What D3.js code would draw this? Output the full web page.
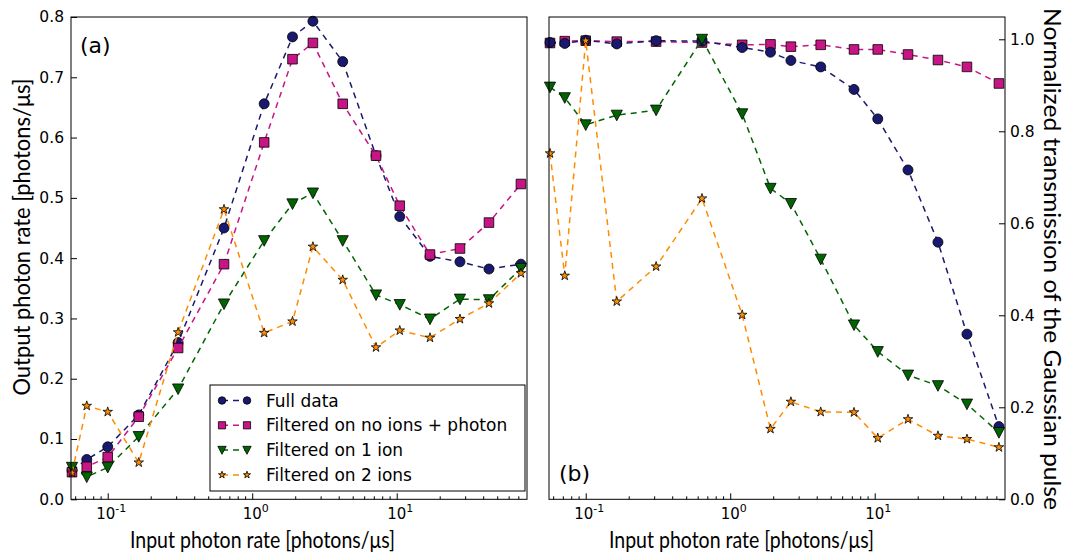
<!DOCTYPE html>
<html>
<head>
<meta charset="utf-8">
<script src="https://cdn.jsdelivr.net/npm/d3@7"></script>
<style>
  html, body { margin: 0; padding: 0; background: #fff; }
  svg { display: block; }
  .tick text { font-family: "DejaVu Sans", sans-serif; }
</style>
</head>
<body>
<svg id="chart" width="1069" height="554"></svg>
<script>
// Input photon rate (photons/us), shared by both panels
const inputRate = [0.0566, 0.0716, 0.1, 0.164, 0.307, 0.638, 1.21, 1.90, 2.63, 4.23, 7.19, 10.5, 17.0, 27.4, 43.5, 72.4];

// Panel (a): output photon rate (photons/us)
const outFull   = [0.048, 0.066, 0.087, 0.140, 0.260, 0.450, 0.656, 0.767, 0.793, 0.726, 0.570, 0.469, 0.403, 0.394, 0.382, 0.390];
const outNoIon  = [0.045, 0.054, 0.070, 0.137, 0.251, 0.390, 0.592, 0.730, 0.757, 0.656, 0.570, 0.487, 0.406, 0.416, 0.459, 0.523];
const outOneIon = [0.053, 0.037, 0.053, 0.104, 0.183, 0.324, 0.429, 0.490, 0.508, 0.429, 0.339, 0.323, 0.299, 0.332, 0.331, 0.383];
const outTwoIon = [0.044, 0.155, 0.145, 0.061, 0.277, 0.481, 0.276, 0.295, 0.419, 0.364, 0.252, 0.280, 0.268, 0.299, 0.325, 0.375];

// Panel (b): normalized transmission of the Gaussian pulse
const normFull   = [0.993, 0.991, 0.998, 0.990, 0.997, 0.996, 0.982, 0.972, 0.954, 0.940, 0.891, 0.827, 0.716, 0.559, 0.359, 0.158];
const normNoIon  = [0.992, 0.996, 0.997, 0.995, 0.995, 0.993, 0.988, 0.989, 0.984, 0.988, 0.978, 0.978, 0.967, 0.955, 0.940, 0.904];
const normOneIon = [0.896, 0.873, 0.814, 0.835, 0.846, 1.000, 0.838, 0.676, 0.643, 0.522, 0.379, 0.321, 0.270, 0.247, 0.207, 0.145];
const normTwoIon = [0.752, 0.486, 0.997, 0.430, 0.506, 0.654, 0.401, 0.153, 0.212, 0.190, 0.189, 0.133, 0.174, 0.138, 0.131, 0.113];

const seriesNames = ["Full data", "Filtered on no ions + photon", "Filtered on 1 ion", "Filtered on 2 ions"];
const seriesColors = ["#191970", "#c71585", "#006400", "#ff8c00"];
const seriesShapes = ["circle", "square", "triangle", "star"];

const leftTicks = [0, 0.1, 0.2, 0.3, 0.4, 0.5, 0.6, 0.7, 0.8];
const rightTicks = [0, 0.2, 0.4, 0.6, 0.8, 1.0];
const decadeTicks = [0.1, 1, 10];
const decadeExp = ["-1", "0", "1"];

const svg = d3.select("#chart");
const titleFont = "Lato, 'Open Sans', sans-serif";

// Marker path generator (centred on 0,0)
function markerPath(shape, s) {
  const p = d3.path();
  if (shape === "circle") {
    const r = 5 * s;
    p.moveTo(r, 0); p.arc(0, 0, r, 0, 2 * Math.PI);
  } else if (shape === "square") {
    const h = 4.8 * s;
    p.rect(-h, -h, 2 * h, 2 * h);
  } else if (shape === "triangle") {
    const r = 5.6 * s;
    p.moveTo(-r, -r * 0.9); p.lineTo(r, -r * 0.9); p.lineTo(0, r * 1.0); p.closePath();
  } else {
    const ro = 5 * s, ri = ro * 0.38;
    for (let i = 0; i < 10; i++) {
      const a = -Math.PI / 2 + i * Math.PI / 5;
      const r = i % 2 === 0 ? ro : ri;
      if (i === 0) p.moveTo(r * Math.cos(a), r * Math.sin(a));
      else p.lineTo(r * Math.cos(a), r * Math.sin(a));
    }
    p.closePath();
  }
  return p.toString();
}

const plotTop = 17, plotBottom = 499.3;
const xDomain = [0.0557, 79.75];

function drawPanel(opts) {
  const { left, right, yDomain, yTicks, series, order, yAxisSide, yPad, tag, tagPos, titleX } = opts;
  const x = d3.scaleLog().domain(xDomain).range([left, right]);
  const y = d3.scaleLinear().domain(yDomain).range([plotBottom, plotTop]);
  const g = svg.append("g");

  // Series: dashed lines then markers, in stacking order
  const line = d3.line().x((d, i) => x(inputRate[i])).y(d => y(d));
  order.forEach(k => {
    g.append("path")
      .attr("d", line(series[k]))
      .attr("fill", "none")
      .attr("stroke", seriesColors[k])
      .attr("stroke-width", 1.5)
      .attr("stroke-dasharray", "6,5");
    g.selectAll(null)
      .data(series[k])
      .join("path")
      .attr("transform", (d, i) => `translate(${x(inputRate[i])},${y(d)})`)
      .attr("d", markerPath(seriesShapes[k], 1))
      .attr("fill", seriesColors[k])
      .attr("stroke", "#000")
      .attr("stroke-width", 0.8);
  });

  // Frame
  g.append("rect")
    .attr("x", left).attr("y", plotTop)
    .attr("width", right - left).attr("height", plotBottom - plotTop)
    .attr("fill", "none").attr("stroke", "#000").attr("stroke-width", 1);

  // Bottom axis: log scale, major ticks with superscript labels, inward ticks
  const xAxis = d3.axisBottom(x)
    .tickValues(decadeTicks)
    .tickSizeInner(-6).tickSizeOuter(0)
    .tickFormat(() => "");
  const xa = g.append("g").attr("transform", `translate(0,${plotBottom})`).call(xAxis);
  xa.select(".domain").remove();
  xa.selectAll(".tick line").attr("stroke", "#000");
  xa.selectAll(".tick text").remove();
  xa.selectAll(".tick").each(function (d, i) {
    const t = d3.select(this).append("text")
      .attr("x", 3).attr("y", 19.5).attr("fill", "#000")
      .attr("text-anchor", "middle")
      .attr("font-family", "DejaVu Sans, sans-serif")
      .attr("font-size", 15);
    t.append("tspan").text("10");
    t.append("tspan").attr("dy", -7).attr("font-size", 11).text(decadeExp[i]);
  });

  // Minor ticks between decades
  const minorVals = x.ticks().filter(v => {
    const e = Math.log10(v);
    return Math.abs(e - Math.round(e)) > 1e-6;
  });
  g.append("g").selectAll("line")
    .data(minorVals)
    .join("line")
    .attr("x1", d => x(d)).attr("x2", d => x(d))
    .attr("y1", plotBottom).attr("y2", plotBottom - 3)
    .attr("stroke", "#000").attr("stroke-width", 1);

  // Vertical axis on the requested side, inward ticks
  const yAxis = (yAxisSide === "left" ? d3.axisLeft(y) : d3.axisRight(y))
    .tickValues(yTicks)
    .tickSizeInner(-6).tickSizeOuter(0)
    .tickPadding(yPad)
    .tickFormat(d3.format(".1f"));
  const ya = g.append("g")
    .attr("transform", `translate(${yAxisSide === "left" ? left : right},0)`)
    .call(yAxis);
  ya.select(".domain").remove();
  ya.selectAll(".tick line").attr("stroke", "#000");
  ya.selectAll(".tick text").attr("font-size", 15.5).attr("fill", "#000");

  // Panel tag
  g.append("text")
    .attr("x", tagPos[0]).attr("y", tagPos[1])
    .attr("font-family", "DejaVu Sans, sans-serif")
    .attr("font-size", 22)
    .text(tag);

  // Horizontal axis title
  g.append("text")
    .attr("x", titleX).attr("y", 547.5)
    .attr("text-anchor", "middle")
    .attr("font-family", titleFont)
    .attr("font-size", 23)
    .attr("textLength", 265)
    .attr("lengthAdjust", "spacingAndGlyphs")
    .text("Input photon rate [photons/\u03bcs]");

  return { x, y, g };
}

// Panel (a)
drawPanel({
  left: 71, right: 527,
  yDomain: [0, 0.8], yTicks: leftTicks,
  series: [outFull, outNoIon, outOneIon, outTwoIon],
  order: [0, 1, 2, 3],
  yAxisSide: "left", yPad: 7,
  tag: "(a)", tagPos: [80, 53],
  titleX: 262.5
});

// Panel (b)
drawPanel({
  left: 549, right: 1005,
  yDomain: [0, 1.0485], yTicks: rightTicks,
  series: [normFull, normNoIon, normOneIon, normTwoIon],
  order: [1, 0, 2, 3],
  yAxisSide: "right", yPad: 5,
  tag: "(b)", tagPos: [559, 481],
  titleX: 741.5
});

// Vertical axis titles
svg.append("text")
  .attr("transform", "translate(30,237) rotate(-90)")
  .attr("text-anchor", "middle")
  .attr("font-family", titleFont)
  .attr("font-size", 23)
  .attr("textLength", 317)
  .attr("lengthAdjust", "spacingAndGlyphs")
  .text("Output photon rate [photons/\u03bcs]");

svg.append("text")
  .attr("transform", "translate(1044,259) rotate(90)")
  .attr("text-anchor", "middle")
  .attr("font-family", titleFont)
  .attr("font-size", 23)
  .attr("textLength", 502)
  .attr("lengthAdjust", "spacingAndGlyphs")
  .text("Normalized transmission of the Gaussian pulse");

// Legend in panel (a)
const legend = svg.append("g");
legend.append("rect")
  .attr("x", 210).attr("y", 385)
  .attr("width", 315).attr("height", 106)
  .attr("fill", "#fff").attr("stroke", "#000").attr("stroke-width", 1);
seriesNames.forEach((name, k) => {
  const cy = 400.5 + k * 24.8;
  legend.append("line")
    .attr("x1", 222).attr("x2", 247)
    .attr("y1", cy).attr("y2", cy)
    .attr("stroke", seriesColors[k]).attr("stroke-width", 1.5)
    .attr("stroke-dasharray", "6,5");
  [222, 247].forEach(px => {
    legend.append("path")
      .attr("transform", `translate(${px},${cy})`)
      .attr("d", markerPath(seriesShapes[k], 0.75))
      .attr("fill", seriesColors[k])
      .attr("stroke", "#000").attr("stroke-width", 0.8);
  });
  legend.append("text")
    .attr("x", 266).attr("y", cy + 6)
    .attr("font-family", "DejaVu Sans, sans-serif")
    .attr("font-size", 17)
    .text(name);
});
</script>
</body>
</html>
